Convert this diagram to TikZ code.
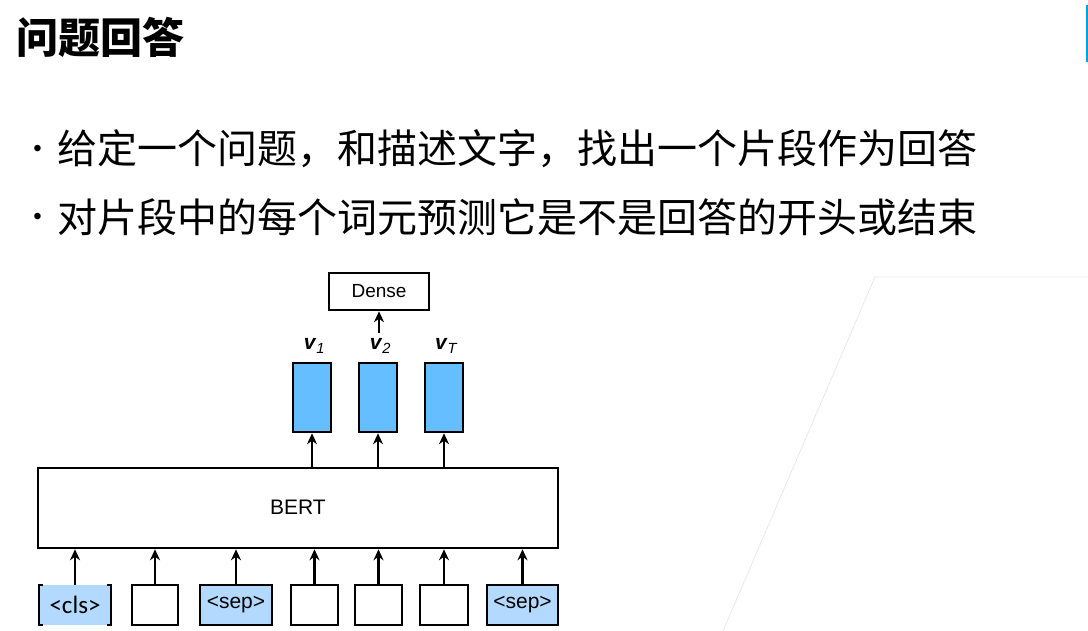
\documentclass[tikz,border=0pt]{standalone}
\usepackage{fontspec}
\setmainfont{Liberation Sans}
\newfontfamily\cjk{Noto Sans CJK SC}
\newfontfamily\clsfont{Carlito}
\usetikzlibrary{arrows.meta}

\definecolor{vecblue}{RGB}{100,190,255}
\definecolor{tokblue}{RGB}{179,217,255}
\definecolor{barblue}{RGB}{0,160,233}
\definecolor{linegray}{RGB}{232,232,232}

\begin{document}
\begin{tikzpicture}[x=1pt, y=-1pt,
  box/.style={draw, line width=2.5pt, inner sep=0pt},
  arr/.style={-{Stealth[length=11pt,width=10pt]}, line width=2.5pt}]
  \useasboundingbox (0,0) rectangle (1088,631);

  % Slide decoration
  \draw[linegray, line width=0.8pt] (1088,277) -- (875,277) -- (723,631);
  \fill[barblue] (1085.7,5) rectangle (1088,62);

  % Title and bullet points
  \node[anchor=west, inner sep=0pt] (title) at (16,37.5) {\cjk\bfseries\fontsize{42}{48}\selectfont 问题回答};
  \node (dot1) at (37.5,151) {\fontsize{24}{28}\selectfont •};
  \node[anchor=west, inner sep=0pt] (line1) at (57,149) {\cjk\fontsize{40}{48}\selectfont 给定一个问题，和描述文字，找出一个片段作为回答};
  \node (dot2) at (37.5,219) {\fontsize{24}{28}\selectfont •};
  \node[anchor=west, inner sep=0pt] (line2) at (57,217) {\cjk\fontsize{40}{48}\selectfont 对片段中的每个词元预测它是不是回答的开头或结束};

  % Input tokens
  \node[inner sep=0pt, fill=tokblue, minimum width=72pt, minimum height=40pt,
        font=\clsfont\fontsize{25}{29}\selectfont] (tok1) at (75,605) {\raisebox{-2pt}{<cls>}};
  \draw[line width=2.5pt] ([xshift=4pt]tok1.north west) -- (tok1.north west) -- (tok1.south west) -- ([xshift=4pt]tok1.south west);
  \draw[line width=2.5pt] ([xshift=-4pt]tok1.north east) -- (tok1.north east) -- (tok1.south east) -- ([xshift=-4pt]tok1.south east);
  \foreach \name/\x/\w/\col/\txt in {tok2/155/46/white/{}, tok3/236/72/tokblue/{<sep>},
      tok4/314.5/47/white/{}, tok5/378.5/47/white/{}, tok6/444/48/white/{}, tok7/522.5/71/tokblue/{<sep>}} {
    \node[box, fill=\col, minimum width=\w pt, minimum height=40pt,
          font=\fontsize{21}{25}\selectfont] (\name) at (\x,605) {\raisebox{3pt}{\txt}};
  }

  % BERT encoder
  \node[box, minimum width=520pt, minimum height=80pt, font=\fontsize{21}{25}\selectfont] (bert) at (298,508) {\raisebox{2pt}{BERT}};
  \foreach \i in {1,...,7} {
    \draw[arr] (tok\i.north) -- (tok\i.north |- bert.south);
  }

  % Output vectors
  \foreach \i/\x/\sub in {1/312/1, 2/378/2, 3/444/T} {
    \node[box, fill=vecblue, minimum width=38pt, minimum height=69pt] (vec\i) at (\x,397.5) {};
    \draw[arr] (vec\i.south |- bert.north) -- (vec\i.south);
    \node[inner sep=0pt, font=\fontsize{21}{25}\selectfont] (lab\i) at (\x+2.5,346)
      {\textbf{\textit{v}}\textsubscript{\textit{\sub}}};
  }

  % Dense layer
  \node[box, minimum width=100pt, minimum height=37pt, font=\fontsize{19}{23}\selectfont] (dense) at (379,291.5) {Dense};
  \coordinate (densein) at (379,333);
  \draw[arr] (densein) -- (dense.south);
\end{tikzpicture}
\end{document}
